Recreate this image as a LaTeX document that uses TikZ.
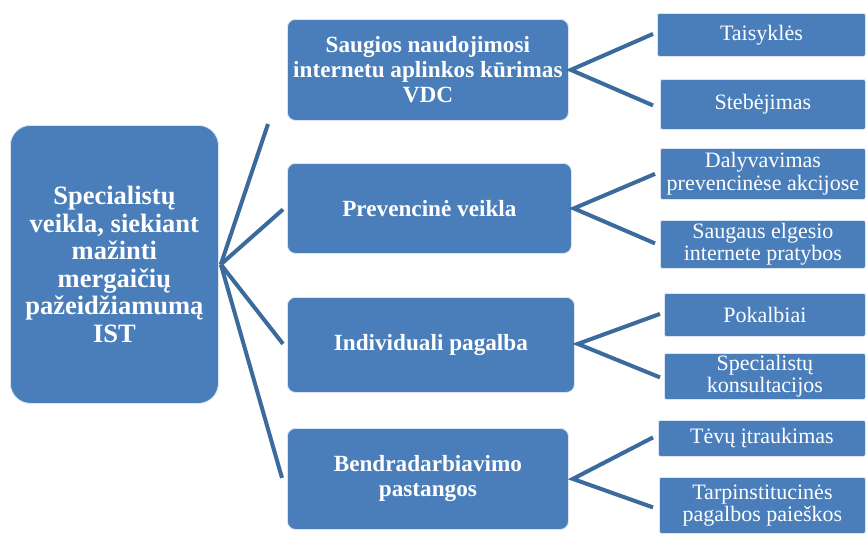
\documentclass[tikz,border=0pt]{standalone}
\usepackage{fontspec}
\setmainfont{Liberation Serif}
\usetikzlibrary{calc}
\definecolor{boxblue}{HTML}{4A7EBB}
\definecolor{linkblue}{HTML}{3B6A9C}
\begin{document}
\begin{tikzpicture}[x=1pt,y=-1pt,
 base/.style={fill=boxblue, draw=white!80!boxblue, line width=0.8pt, text=white, align=center, inner sep=0pt, anchor=north west},
 rootbox/.style={base, rounded corners=20pt, font=\fontsize{26.5}{27.5}\selectfont\bfseries},
 midbox/.style={base, rounded corners=8pt, font=\fontsize{23.2}{25}\selectfont\bfseries},
 leafbox/.style={base, rounded corners=2pt, font=\fontsize{22}{22.5}\selectfont},
 conn/.style={draw=linkblue, line width=4pt, line join=miter}]
\useasboundingbox (0,0) rectangle (866,533);
\fill[white] (0,0) rectangle (866,533);
% root
\node[rootbox, minimum width=208pt, minimum height=278pt] (root) at (10,125)
  {Specialistų\\veikla, siekiant\\mažinti\\mergaičių\\pažeidžiamumą\\IST};
% level 1
\node[midbox, minimum width=281pt, minimum height=101pt] (b1) at (287,19)
  {Saugios naudojimosi\\internetu aplinkos kūrimas\\VDC};
\node[midbox, minimum width=284pt, minimum height=90pt] (b2) at (287,163)
  {Prevencinė veikla};
\node[midbox, minimum width=287pt, minimum height=95pt] (b3) at (287,297)
  {Individuali pagalba};
\node[midbox, minimum width=281pt, minimum height=101pt] (b4) at (287,428)
  {Bendradarbiavimo\\pastangos};
% level 2
\node[leafbox, minimum width=208pt, minimum height=43pt] (t1) at (657,13) {Taisyklės};
\node[leafbox, minimum width=205pt, minimum height=50pt] (t2) at (660,79) {Stebėjimas};
\node[leafbox, minimum width=205pt, minimum height=51pt] (t3) at (660,148) {Dalyvavimas\\prevencinėse akcijose};
\node[leafbox, minimum width=205pt, minimum height=48pt] (t4) at (660,220) {Saugaus elgesio\\internete pratybos};
\node[leafbox, minimum width=201pt, minimum height=43pt] (t5) at (664,293) {Pokalbiai};
\node[leafbox, minimum width=201pt, minimum height=46pt] (t6) at (664,353) {Specialistų\\konsultacijos};
\node[leafbox, minimum width=207pt, minimum height=36pt] (t7) at (658,420) {Tėvų įtraukimas};
\node[leafbox, minimum width=206pt, minimum height=56pt] (t8) at (659,477) {Tarpinstitucinės\\pagalbos paieškos};
% root connectors
\coordinate (hub) at ($(root.east)+(2,0)$);
\coordinate (c1) at (268,124);
\draw[conn] (hub) -- (c1);
\draw[conn] (hub) -- ($(b2.west)+(-4,1)$);
\draw[conn] (hub) -- ($(b3.west)+(-4,-1)$);
\draw[conn] (hub) -- ($(b4.west)+(-5,-1)$);
% level 2 connectors
\draw[conn] ($(t1.west)+(-4,-1)$) -- ($(b1.east)+(2,0)$) -- ($(t2.west)+(-7,1)$);
\draw[conn] ($(t3.west)+(-5,0)$) -- ($(b2.east)+(2,0)$) -- ($(t4.west)+(-5,-1)$);
\draw[conn] ($(t5.west)+(-4,-1)$) -- ($(b3.east)+(3,-1)$) -- ($(t6.west)+(-4,1)$);
\draw[conn] ($(t7.west)+(-5,-1)$) -- ($(b4.east)+(4,0)$) -- ($(t8.west)+(-6,2)$);
\end{tikzpicture}
\end{document}
